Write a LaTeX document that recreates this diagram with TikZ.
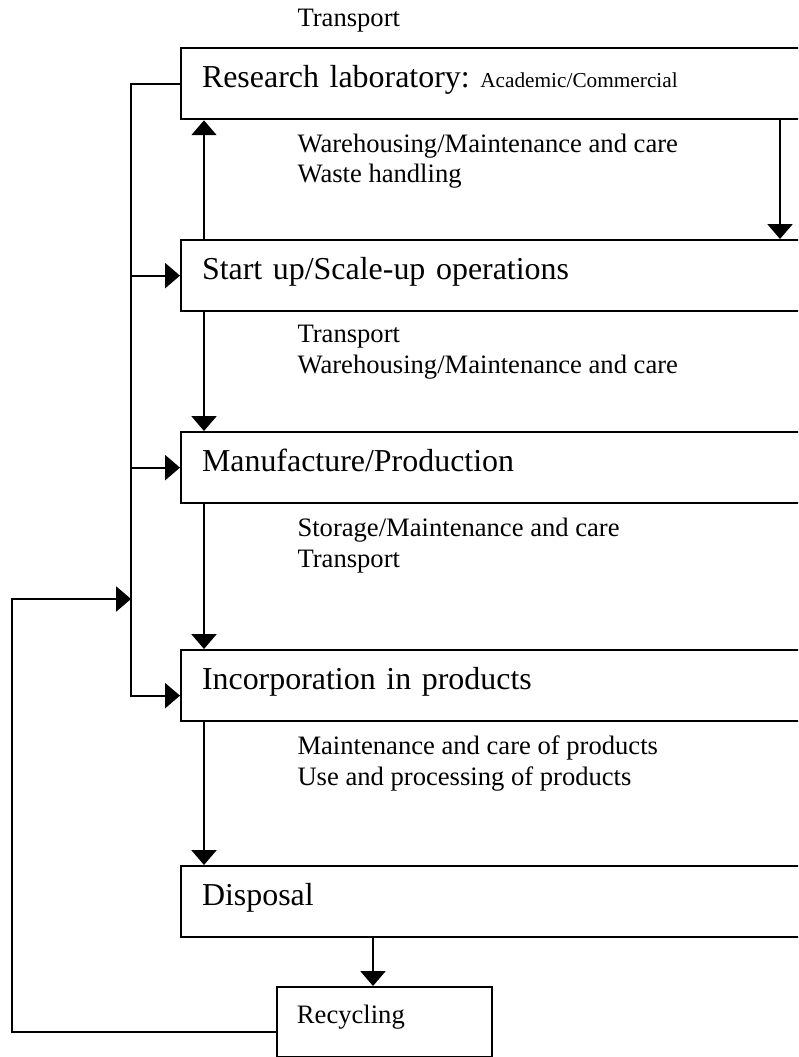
\documentclass[tikz,border=0pt]{standalone}
\usepackage{fontspec}
\setmainfont{Liberation Serif}
\usetikzlibrary{arrows.meta}
\tikzset{
  box/.style={draw,line width=.75pt,anchor=north west,inner xsep=7.9pt,inner ysep=0pt,
    text width=232pt,align=left,text height=15pt,text depth=11.8pt,font=\fontsize{12}{14}\selectfont},
  rbox/.style={draw,line width=.75pt,anchor=north west,inner xsep=7.5pt,inner ysep=0pt,
    text width=65.8pt,align=left,text height=13.9pt,text depth=12.4pt,font=\fontsize{10}{12}\selectfont},
  lbl/.style={anchor=base west,inner sep=0pt,align=left,font=\fontsize{10}{11.3}\selectfont},
  arr/.style={line width=.75pt,-{Triangle[width=9.4pt,length=5.6pt]}},
  ln/.style={line width=.75pt}
}

\begin{document}
\begin{tikzpicture}[x=0.3759pt,y=-0.3759pt]
    \useasboundingbox (0,0) rectangle (798,1057);
    \clip (0,0) rectangle (798,1057);
    \coordinate (rail) at (131,0);
    \coordinate (spine) at (204,0);
    \coordinate (rspine) at (780,0);
    \coordinate (dspine) at (373,0);
    \coordinate (loop) at (12,599);
    % stages
    \node[box] (lab) at (180,47) {Research laboratory:\ {\fontsize{8}{9}\selectfont Academic/Commercial}};
    \node[box] (start) at (180,239) {Start up/Scale-up operations};
    \node[box] (manu) at (180,431) {Manufacture/Production};
    \node[box] (inc) at (180,649) {Incorporation in products};
    \node[box] (disp) at (180,865) {Disposal};
    \node[rbox] (recyc) at (276,986) {Recycling};
    % activities (base = last line)
    \node[lbl] (tr) at (297,27) {Transport};
    \node[lbl] (wh) at (297,183) {Warehousing/Maintenance and care\\Waste handling};
    \node[lbl] (tw) at (297,373) {Transport\\Warehousing/Maintenance and care};
    \node[lbl] (sm) at (297,567) {Storage/Maintenance and care\\Transport};
    \node[lbl] (mu) at (297,785) {Maintenance and care of products\\Use and processing of products};
    % flow
    \draw[arr] (start.north -| spine) -- (lab.south -| spine);
    \draw[arr] (lab.south -| rspine) -- (start.north -| rspine);
    \draw[arr] (start.south -| spine) -- (manu.north -| spine);
    \draw[arr] (manu.south -| spine) -- (inc.north -| spine);
    \draw[arr] (inc.south -| spine) -- (disp.north -| spine);
    \draw[arr] (disp.south -| dspine) -- (recyc.north -| dspine);
    % feedback rail
    \draw[arr] (lab.west) -| ([yshift=-3.76pt]inc.west -| rail) -- ([yshift=-3.76pt]inc.west);
    \draw[arr] (rail |- start.west) -- (start.west);
    \draw[arr] (rail |- manu.west) -- (manu.west);
    \draw[arr] ([yshift=-3.76pt]recyc.west) -| (loop) -- (rail |- loop);
\end{tikzpicture}
\end{document}
